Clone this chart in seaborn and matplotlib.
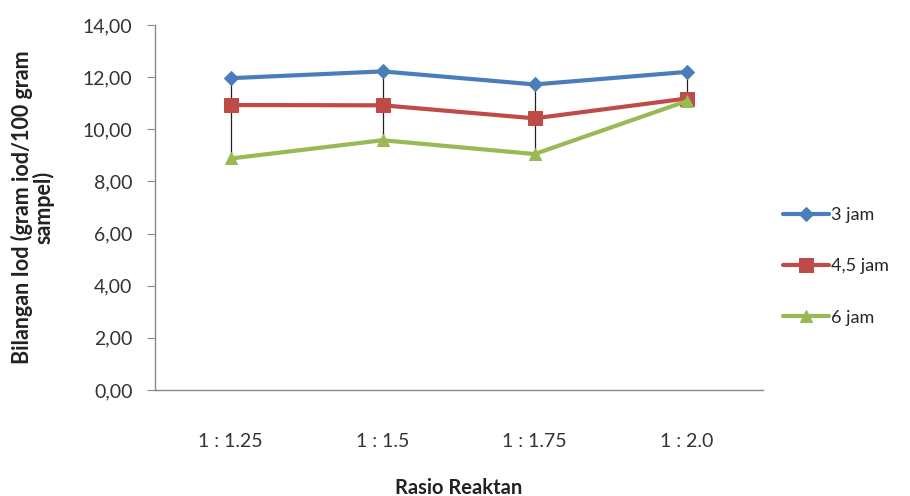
import numpy as np
import pandas as pd
import matplotlib
matplotlib.use("Agg")
import matplotlib.pyplot as plt
import seaborn as sns

# Iodine number per reactant ratio at three reaction times
categories = ["1 : 1.25", "1 : 1.5", "1 : 1.75", "1 : 2.0"]
series_names = ["3 jam", "4,5 jam", "6 jam"]
jam_3 = [11.96, 12.22, 11.72, 12.20]
jam_4_5 = [10.93, 10.92, 10.42, 11.18]
jam_6 = [8.88, 9.58, 9.05, 11.08]
y_ticks = [0, 2, 4, 6, 8, 10, 12, 14]

values = [jam_3, jam_4_5, jam_6]
df = pd.DataFrame({
    "Rasio": categories * 3,
    "pos": list(range(len(categories))) * 3,
    "Bilangan": jam_3 + jam_4_5 + jam_6,
    "Waktu": [s for s in series_names for _ in categories],
})

sns.set_theme(style="white")
plt.rcParams["font.family"] = ["Lato", "DejaVu Sans"]

fig = plt.figure(figsize=(9.1, 4.96), dpi=100)
ax = fig.add_axes([0.170, 0.2137, 0.668, 0.7359])

colors = {"3 jam": "#4A7EBB", "4,5 jam": "#BE4B48", "6 jam": "#98B954"}
markers = {"3 jam": "D", "4,5 jam": "s", "6 jam": "^"}
sizes = {"3 jam": 7, "4,5 jam": 10, "6 jam": 9}

# high-low lines joining the series at each ratio
hi = np.max(values, axis=0)
lo = np.min(values, axis=0)
ax.vlines(range(len(categories)), lo, hi, color="#222222", linewidth=0.9, zorder=1)

for name in series_names:
    sub = df[df["Waktu"] == name]
    sns.lineplot(data=sub, x="pos", y="Bilangan", ax=ax, color=colors[name],
                 linewidth=3, marker=markers[name], markersize=sizes[name],
                 markeredgecolor=colors[name], label=name, zorder=3)

ax.set_xlim(-0.5, len(categories) - 0.5)
ax.set_ylim(0, 14)
ax.set_yticks(y_ticks)
ax.set_yticklabels([f"{v:.2f}".replace(".", ",") for v in y_ticks], fontsize=14, color="#333333")
ax.set_xticks(range(len(categories)))
ax.set_xticklabels(categories, fontsize=14, color="#333333")
ax.tick_params(axis="x", length=0, pad=31)
ax.tick_params(axis="y", length=6, width=0.8, color="#888888", direction="out", left=True, pad=10)

for s in ["top", "right"]:
    ax.spines[s].set_visible(False)
for s in ["left", "bottom"]:
    ax.spines[s].set_color("#888888")
    ax.spines[s].set_linewidth(1.0)

ax.set_xlabel("Rasio Reaktan", fontsize=14.5, fontweight="bold", color="#222222", labelpad=20)
ax.set_ylabel("Bilangan Iod (gram iod/100 gram\nsampel)", fontsize=15.5, fontweight="bold",
              color="#222222", labelpad=20, linespacing=1.0)

handles, labels = ax.get_legend_handles_labels()
ax.get_legend().remove()
fig.legend(handles, labels, loc="center left", bbox_to_anchor=(0.853, 0.463), frameon=False,
           fontsize=13, handlelength=2.5, labelspacing=1.95, handletextpad=0.15,
           borderaxespad=0)

fig.savefig("out.png", dpi=100, facecolor="white")
